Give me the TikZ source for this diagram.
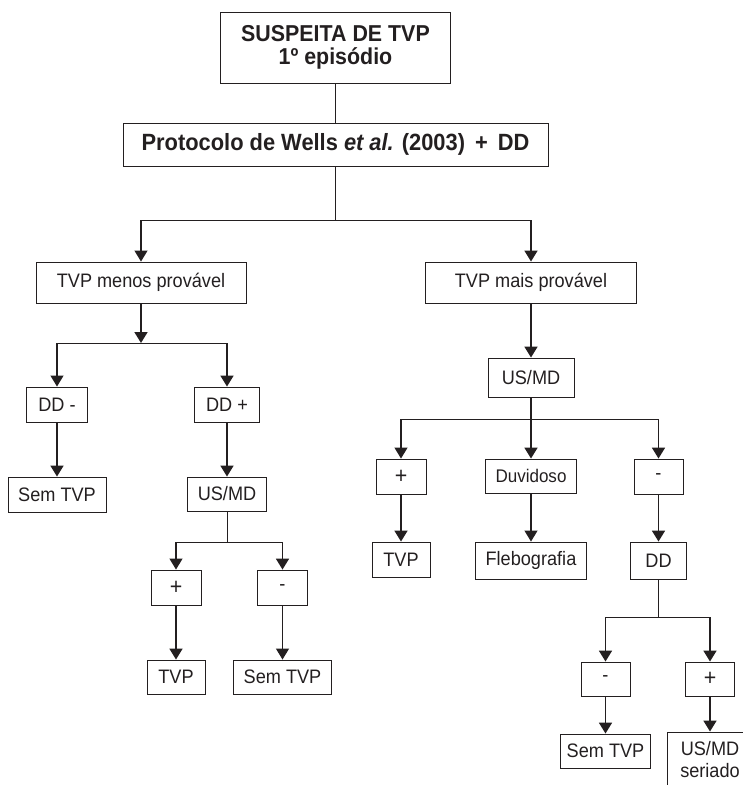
\documentclass[tikz,border=0pt]{standalone}
\usepackage{fontspec}
\setmainfont{Liberation Sans}[FakeStretch=0.93]
\usetikzlibrary{arrows.meta,positioning}
\definecolor{ink}{RGB}{35,31,32}

\begin{document}
\begin{tikzpicture}[x=1pt,y=-1pt,
  box/.style={draw=ink,line width=0.9pt,rectangle,inner sep=0pt,text=ink,align=center,font=\fontsize{19.5}{22}\selectfont},
  arr/.style={draw=ink,line width=1.8pt,-{Triangle[length=11pt,width=13pt]}},
  tarr/.style={draw=ink,line width=1.1pt,-{Triangle[length=11pt,width=13pt]}},
  link/.style={draw=ink,line width=1pt}]
            \clip (0,0) rectangle (743,785);

            \node[box,minimum width=230pt,minimum height=71pt,font=\bfseries\fontsize{23}{23}\selectfont] (susp) at (335.5,47.5) {SUSPEITA DE TVP\\1º episódio};
            \node[box,minimum width=425pt,minimum height=43pt,font=\bfseries\fontsize{23.5}{24}\selectfont] (proto) at (335.5,144.5) {Protocolo de Wells \textit{et al.} (2003) \,+\, DD};

            \node[box,minimum width=210pt,minimum height=41pt] (menos) at (141,282.5) {TVP menos provável};
            \node[box,minimum width=211pt,minimum height=41pt] (mais) at (531,282.5) {TVP mais provável};

            \node[box,minimum width=61pt,minimum height=35pt] (ddneg) at (57,404.5) {DD -};
            \node[box,minimum width=65pt,minimum height=35pt] (ddpos) at (227,404.5) {DD +};
            \node[box,minimum width=98pt,minimum height=35pt] (semA) at (57,494.5) {Sem TVP};
            \node[box,minimum width=79pt,minimum height=34pt] (usA) at (227,494) {US/MD};
            \node[box,minimum width=50pt,minimum height=35pt,font=\fontsize{23}{23}\selectfont] (posA) at (176,587.5) {+};
            \node[box,minimum width=50pt,minimum height=35pt] (negA) at (282.5,587.5) {-};
            \node[box,minimum width=58pt,minimum height=34pt] (tvpA) at (176,677) {TVP};
            \node[box,minimum width=98pt,minimum height=34pt] (semB) at (282.5,677) {Sem TVP};

            \node[box,minimum width=86pt,minimum height=39pt] (usB) at (531,377.5) {US/MD};
            \node[box,minimum width=50pt,minimum height=35pt,font=\fontsize{23}{23}\selectfont] (posB) at (401,476.5) {+};
            \node[box,minimum width=91pt,minimum height=34pt,font=\fontsize{18.3}{20}\selectfont] (duv) at (531,476) {Duvidoso};
            \node[box,minimum width=49pt,minimum height=35pt] (negB) at (658.5,476.5) {-};
            \node[box,minimum width=58pt,minimum height=35pt] (tvpB) at (401,559.5) {TVP};
            \node[box,minimum width=111pt,minimum height=37pt] (fleb) at (531,560.5) {Flebografia};
            \node[box,minimum width=56pt,minimum height=37pt] (ddB) at (658.5,560.5) {DD};
            \node[box,minimum width=49pt,minimum height=34pt] (negC) at (605.5,679) {-};
            \node[box,minimum width=49pt,minimum height=34pt,font=\fontsize{23}{23}\selectfont] (posC) at (710,679) {+};
            \node[box,minimum width=90pt,minimum height=34pt] (semC) at (605.5,751) {Sem TVP};
            \node[box,minimum width=86pt,minimum height=55pt] (serial) at (710,759.5) {US/MD\\seriado};

            \coordinate (j1) at (335.5,220);
            \coordinate (j2) at (141,343);
            \coordinate (j3) at (227,542);
            \coordinate (j4) at (531,419);
            \coordinate (j5) at (658.5,617);

            \draw[link](susp) -- (proto);
            \draw[link](proto) -- (j1);
            \draw[link](menos.north |- j1) -- (mais.north |- j1);
            \draw[tarr](menos.north |- j1) -- (menos);
            \draw[arr](mais.north |- j1) -- (mais);

            \draw[arr](menos) -- (j2);
            \draw[link](ddneg.north |- j2) -- (ddpos.north |- j2);
            \draw[tarr](ddneg.north |- j2) -- (ddneg);
            \draw[arr](ddpos.north |- j2) -- (ddpos);
            \draw[arr](ddneg) -- (semA);
            \draw[arr](ddpos) -- (usA);

            \draw[link](usA) -- (j3);
            \draw[link](posA.north |- j3) -- (negA.north |- j3);
            \draw[tarr](posA.north |- j3) -- (posA);
            \draw[arr](negA.north |- j3) -- (negA);
            \draw[arr](posA) -- (tvpA);
            \draw[tarr](negA) -- (semB);

            \draw[arr](mais) -- (usB);
            \draw[link](posB.north |- j4) -- (negB.north |- j4);
            \draw[arr](usB) -- (duv);
            \draw[tarr](posB.north |- j4) -- (posB);
            \draw[arr](negB.north |- j4) -- (negB);
            \draw[arr](posB) -- (tvpB);
            \draw[tarr](duv) -- (fleb);
            \draw[arr](negB) -- (ddB);

            \draw[link](ddB) -- (j5);
            \draw[link](negC.north |- j5) -- (posC.north |- j5);
            \draw[arr](negC.north |- j5) -- (negC);
            \draw[arr](posC.north |- j5) -- (posC);
            \draw[arr](negC) -- (semC);
            \draw[arr](posC) -- (serial);
        \end{tikzpicture}
\end{document}
